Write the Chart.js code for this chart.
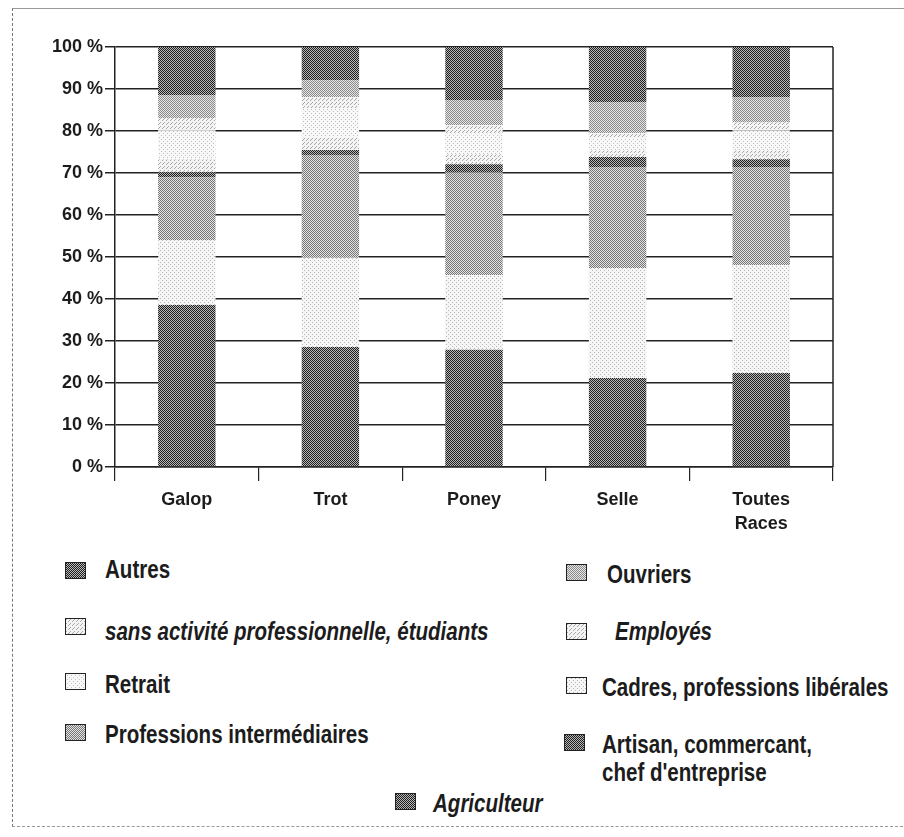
<!DOCTYPE html>
<html lang="fr">
<head>
<meta charset="utf-8">
<title>Catégories socio-professionnelles par race</title>
<script src="https://cdn.jsdelivr.net/npm/chart.js@4.4.1/dist/chart.umd.min.js"></script>
<style>
  html, body { margin: 0; padding: 0; background: #fff; }
  body {
    width: 904px; height: 837px; position: relative; overflow: hidden;
    font-family: 'Liberation Sans', Arial, sans-serif;
    color: #1c1c1c;
  }
  .frame {
    position: absolute; left: 12px; top: 8px; width: 900px; height: 817px;
    border-left: 1px dashed #777; border-top: 1px solid #999; border-bottom: 1px dashed #999;
  }
  #wrap { position: absolute; left: 20px; top: 30px; width: 820px; height: 520px; }
  .sw { position: absolute; border: 1px solid #222; }
  .lt {
    position: absolute; font-weight: bold; font-size: 26px; line-height: 30px;
    white-space: nowrap; transform: scaleX(0.79); transform-origin: 0 0;
  }
  .lt.it { font-style: italic; }
</style>
</head>
<body>
<div class="frame"></div>
<div id="wrap"><canvas id="chart" width="820" height="520"></canvas></div>
<div id="legend"></div>

<script>
// stacked bars, bottom to top
const categories = ['Galop', 'Trot', 'Poney', 'Selle', ['Toutes', 'Races']];

const agriculteur  = [38.6, 28.6, 27.9, 21.2, 22.4];
const cadres       = [15.4, 21.2, 17.8, 26.2, 25.7];
const profInter    = [15.0, 24.5, 24.5, 24.0, 23.3];
const artisan      = [1.2, 1.2, 1.9, 2.4, 1.9];
const employes     = [3.0, 3.0, 2.3, 1.5, 2.0];
const retrait      = [7.0, 7.0, 5.0, 3.0, 4.8];
const sansActivite = [2.9, 2.6, 2.0, 1.2, 2.0];
const ouvriers     = [5.5, 4.0, 6.0, 7.4, 6.0];
const autres       = [11.4, 7.9, 12.6, 13.1, 11.9];

const yTickStep = 10;
const yTickSuffix = ' %';

const FONT = "'Liberation Sans', Arial, sans-serif";

// halftone-ish tiles so the bars look like the printed screens
const tiles = {
  dark:   { size: 2, paper: '#b8b8b8', ink: '#1e1e1e', dots: [[0, 0], [1, 1]] },
  medium: { size: 2, paper: '#e2e2e2', ink: '#777777', dots: [[0, 0], [1, 1]] },
  mid2:   { size: 2, paper: '#e6e6e6', ink: '#8a8a8a', dots: [[0, 0], [1, 1]] },
  light:  { size: 4, paper: '#f4f4f4', ink: '#a8a8a8', dots: [[0, 0], [2, 2], [3, 1]] },
  pale:   { size: 4, paper: '#f6f6f6', ink: '#b4b4b4', dots: [[0, 0], [2, 2]] },
  white:  { size: 4, paper: '#f8f8f8', ink: '#c0c0c0', dots: [[1, 1], [3, 3]] }
};

const series = [
  { label: 'Agriculteur', data: agriculteur, tile: 'dark' },
  { label: 'Cadres, professions libérales', data: cadres, tile: 'pale' },
  { label: 'Professions intermédiaires', data: profInter, tile: 'medium' },
  { label: 'Artisan, commercant, chef d\'entreprise', data: artisan, tile: 'dark' },
  { label: 'Employés', data: employes, tile: 'light' },
  { label: 'Retrait', data: retrait, tile: 'white' },
  { label: 'sans activité professionnelle, étudiants', data: sansActivite, tile: 'light' },
  { label: 'Ouvriers', data: ouvriers, tile: 'mid2' },
  { label: 'Autres', data: autres, tile: 'dark' }
];

function makeTile(spec) {
  const c = document.createElement('canvas');
  c.width = spec.size;
  c.height = spec.size;
  const g = c.getContext('2d');
  g.fillStyle = spec.paper;
  g.fillRect(0, 0, spec.size, spec.size);
  g.fillStyle = spec.ink;
  spec.dots.forEach(([x, y]) => g.fillRect(x, y, 1, 1));
  return c;
}

const canvas = document.getElementById('chart');
const ctx = canvas.getContext('2d');

const datasets = series.map(s => ({
  label: s.label,
  data: s.data,
  backgroundColor: ctx.createPattern(makeTile(tiles[s.tile]), 'repeat'),
  borderWidth: 0,
  barPercentage: 0.4,
  categoryPercentage: 1.0
}));

// right-hand frame line of the plot
const rightEdge = {
  id: 'rightEdge',
  afterDraw(chart) {
    const a = chart.chartArea;
    const c = chart.ctx;
    c.save();
    c.strokeStyle = '#222';
    c.lineWidth = 1.5;
    c.beginPath();
    c.moveTo(a.right, a.top);
    c.lineTo(a.right, a.bottom);
    c.stroke();
    c.restore();
  }
};

new Chart(ctx, {
  type: 'bar',
  data: { labels: categories, datasets: datasets },
  options: {
    responsive: false,
    animation: false,
    layout: { padding: { top: 17, right: 7, left: 0, bottom: 0 } },
    plugins: {
      legend: { display: false },
      tooltip: { enabled: false }
    },
    scales: {
      x: {
        stacked: true,
        grid: {
          display: true, offset: true, drawOnChartArea: false, drawTicks: true,
          tickLength: 14, color: '#222', lineWidth: 1.2
        },
        border: { display: true, color: '#222', width: 1.5 },
        ticks: {
          color: '#1c1c1c', padding: 7,
          font: { family: FONT, size: 18, weight: 'bold', lineHeight: 1.35 }
        },
        afterFit(scale) { scale.height = 83; }
      },
      y: {
        stacked: true,
        min: 0,
        max: 100,
        grid: { color: '#222', lineWidth: 1.5, tickLength: 10 },
        border: { display: true, color: '#222', width: 1.5 },
        ticks: {
          stepSize: yTickStep,
          color: '#1c1c1c',
          padding: 2,
          font: { family: FONT, size: 18, weight: 'bold' },
          callback: v => v + yTickSuffix
        },
        afterFit(scale) { scale.width = 95; }
      }
    }
  },
  plugins: [rightEdge]
});

// custom legend, laid out like the printed one
const legendItems = [
  { i: 8, sx: 65, sy: 562, tx: 105, base: 578, text: 'Autres' },
  { i: 6, sx: 65, sy: 618, tx: 105, base: 640, text: 'sans activité professionnelle, étudiants', it: true },
  { i: 5, sx: 65, sy: 673, tx: 105, base: 693, text: 'Retrait' },
  { i: 2, sx: 65, sy: 724, tx: 105, base: 743, text: 'Professions intermédiaires' },
  { i: 7, sx: 566, sy: 564, tx: 607, base: 583, text: 'Ouvriers' },
  { i: 4, sx: 566, sy: 623, tx: 615, base: 640, text: 'Employés', it: true },
  { i: 1, sx: 566, sy: 677, tx: 602, base: 696, text: 'Cadres, professions libérales' },
  { i: 3, sx: 564, sy: 734, tx: 602, base: 753, text: 'Artisan, commercant,' },
  { i: -1, tx: 602, base: 781, text: 'chef d\'entreprise' },
  { i: 0, sx: 395, sy: 793, tx: 433, base: 812, text: 'Agriculteur', it: true }
];

const legend = document.getElementById('legend');
legendItems.forEach(item => {
  if (item.i >= 0) {
    const sw = document.createElement('canvas');
    sw.className = 'sw';
    sw.width = 19;
    sw.height = 15;
    sw.style.left = item.sx + 'px';
    sw.style.top = item.sy + 'px';
    const g = sw.getContext('2d');
    g.fillStyle = g.createPattern(makeTile(tiles[series[item.i].tile]), 'repeat');
    g.fillRect(0, 0, sw.width, sw.height);
    legend.appendChild(sw);
  }
  const t = document.createElement('div');
  t.className = 'lt' + (item.it ? ' it' : '');
  t.textContent = item.text;
  t.style.left = item.tx + 'px';
  t.style.top = (item.base - 24) + 'px';
  legend.appendChild(t);
});
</script>
</body>
</html>
